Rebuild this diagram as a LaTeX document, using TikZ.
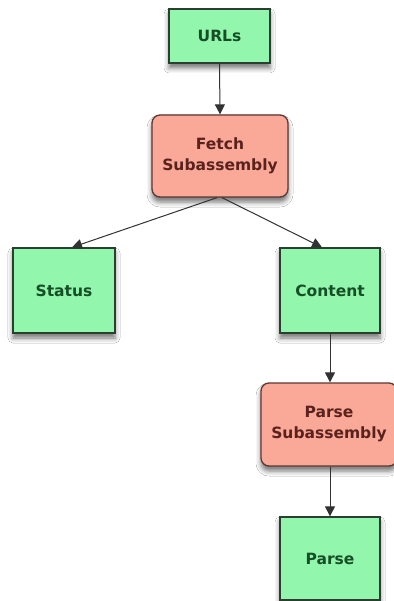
\documentclass[tikz,border=0pt]{standalone}
\usepackage{fontspec}
\setmainfont{DejaVu Sans}
\usetikzlibrary{arrows.meta,shadows.blur}

\definecolor{leafFill}{RGB}{146,246,172}
\definecolor{leafLine}{RGB}{44,62,48}
\definecolor{leafText}{RGB}{22,78,38}
\definecolor{subFill}{RGB}{250,168,152}
\definecolor{subLine}{RGB}{92,56,50}
\definecolor{subText}{RGB}{90,34,28}
\definecolor{wire}{RGB}{50,50,50}

\tikzset{
  boxbase/.style={draw, line width=1.3pt, align=center, inner sep=0pt,
    font=\fontsize{15.5}{21}\selectfont\bfseries,
    blur shadow={shadow xshift=0pt, shadow yshift=-5pt, shadow blur radius=5pt, shadow opacity=55}},
  tapbox/.style={boxbase, fill=leafFill, draw=leafLine, text=leafText},
  subbox/.style={boxbase, fill=subFill, draw=subLine, text=subText, rounded corners=8pt},
  flow/.style={draw=wire, line width=1pt, -{Triangle[length=10pt,width=10pt]}}
}

\begin{document}
\begin{tikzpicture}[x=1pt,y=-1pt]
  \useasboundingbox (0,0) rectangle (393,601);
  \fill[white] (0,0) rectangle (393,601);

  \node[tapbox, minimum width=101pt, minimum height=54pt] (urls) at (219.5,36) {URLs};
  \node[subbox, minimum width=136pt, minimum height=82pt] (fetch) at (220,156) {Fetch\\Subassembly};
  \node[tapbox, minimum width=102pt, minimum height=85pt] (status) at (64,290.5) {Status};
  \node[tapbox, minimum width=100pt, minimum height=85pt] (content) at (330,290.5) {Content};
  \node[subbox, minimum width=136pt, minimum height=83pt] (parsesub) at (329,424.5) {Parse\\Subassembly};
  \node[tapbox, minimum width=100pt, minimum height=83pt] (parse) at (330,558.5) {Parse};

  \draw[flow] (urls.south) -- (fetch.north);
  \draw[flow] ([xshift=-3pt]fetch.south) -- ([xshift=8pt]status.north);
  \draw[flow] ([xshift=2pt]fetch.south) -- ([xshift=-8pt]content.north);
  \draw[flow] (content.south) -- (content.south |- parsesub.north);
  \draw[flow] (parse.north |- parsesub.south) -- (parse.north);
\end{tikzpicture}
\end{document}
